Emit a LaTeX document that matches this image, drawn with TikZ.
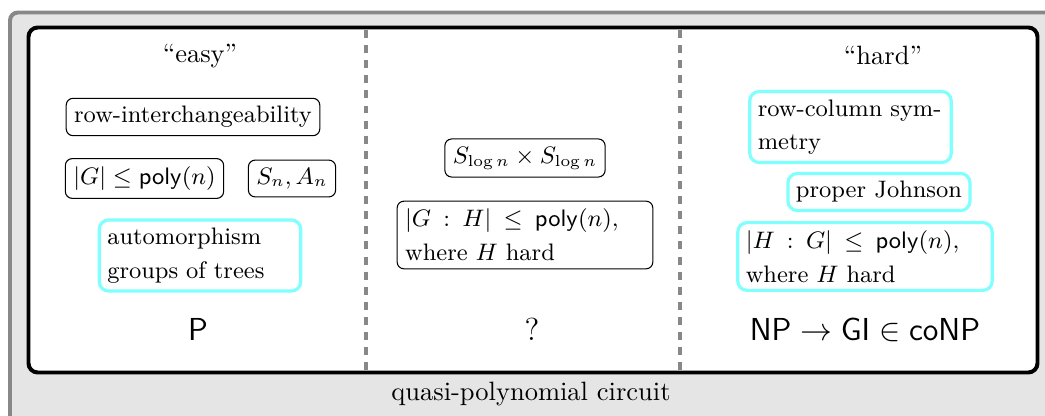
\documentclass[tikz,border=0pt]{standalone}
\definecolor{boxcyan}{RGB}{128,255,255}
\definecolor{framegray}{RGB}{136,136,136}
\definecolor{fillgray}{RGB}{229,229,229}
\begin{document}
\begin{tikzpicture}[x=0.3774pt,y=-0.3774pt,
  outerbox/.style={draw=framegray,fill=fillgray,line width=1.5pt,rounded corners=3pt},
  innerbox/.style={draw=black,fill=white,line width=1.5pt,rounded corners=3.5pt},
  divider/.style={draw=framegray,line width=1.3pt,dash pattern=on 3pt off 2.7pt},
  boxfont/.style={font=\fontsize{9}{12.7}\selectfont,inner sep=3pt},
  plainbox/.style={boxfont,draw=black,line width=0.4pt,rounded corners=2.6pt},
  cyanbox/.style={boxfont,draw=boxcyan,line width=1.2pt,rounded corners=3.5pt},
  twoline/.style={text width=#1,align=left},
  widerel/.style={execute at begin node={\thickmuskip=9mu plus 2mu}},
  heading/.style={font=\normalsize,anchor=base},
  verdict/.style={font=\large,anchor=base}]
\useasboundingbox (0,0) rectangle (1045,416);
\clip (0,0) rectangle (1045,416);
\draw[outerbox] (10,12.5) rectangle (1090,460);
\draw[innerbox] (28.5,27.5) rectangle (1037.5,372.5);
\coordinate (d1t) at (366,30);
\coordinate (d1b) at (366,370);
\coordinate (d2t) at (680,30);
\coordinate (d2b) at (680,370);
\draw[divider] (d1t) -- (d1b);
\draw[divider] (d2t) -- (d2b);
% left column
\node[heading] (easy) at (200,62.5) {``easy''};
\node[plainbox] (rowint) at (193,117) {row-interchangeability};
\node[plainbox] (smallG) at (144.5,178.5) {$|G| \le \mathsf{poly}(n)$};
\node[plainbox] (SnAn) at (292,178.5) {$S_n, A_n$};
\node[cyanbox,twoline=70pt] (trees) at (200,255.5) {automorphism\\groups of trees};
\node[verdict] (P) at (198,340.5) {\textsf{P}};
% middle column
\node[plainbox] (Slog) at (525,158) {$S_{\log n} \times S_{\log n}$};
\node[plainbox,twoline=90.5pt,widerel] (GH) at (525,235) {$|G : H| \le \mathsf{poly}(n)$,\\where $H$ hard};
\node[verdict] (Q) at (532,340.5) {?};
% right column
\node[heading] (hard) at (883,65) {``hard''};
\node[cyanbox,twoline=70pt] (rowcol) at (850.5,127) {row-column sym-\\metry};
\node[cyanbox] (johnson) at (879,192) {proper Johnson};
\node[cyanbox,twoline=90pt,widerel] (HG) at (865,256.5) {$|H : G| \le \mathsf{poly}(n)$,\\where $H$ hard};
\node[verdict] (NP) at (865,340.5) {$\mathsf{NP} \to \mathsf{GI} \in \mathsf{coNP}$};
% caption
\node[heading] (qp) at (531,401) {quasi-polynomial circuit};
\end{tikzpicture}
\end{document}
